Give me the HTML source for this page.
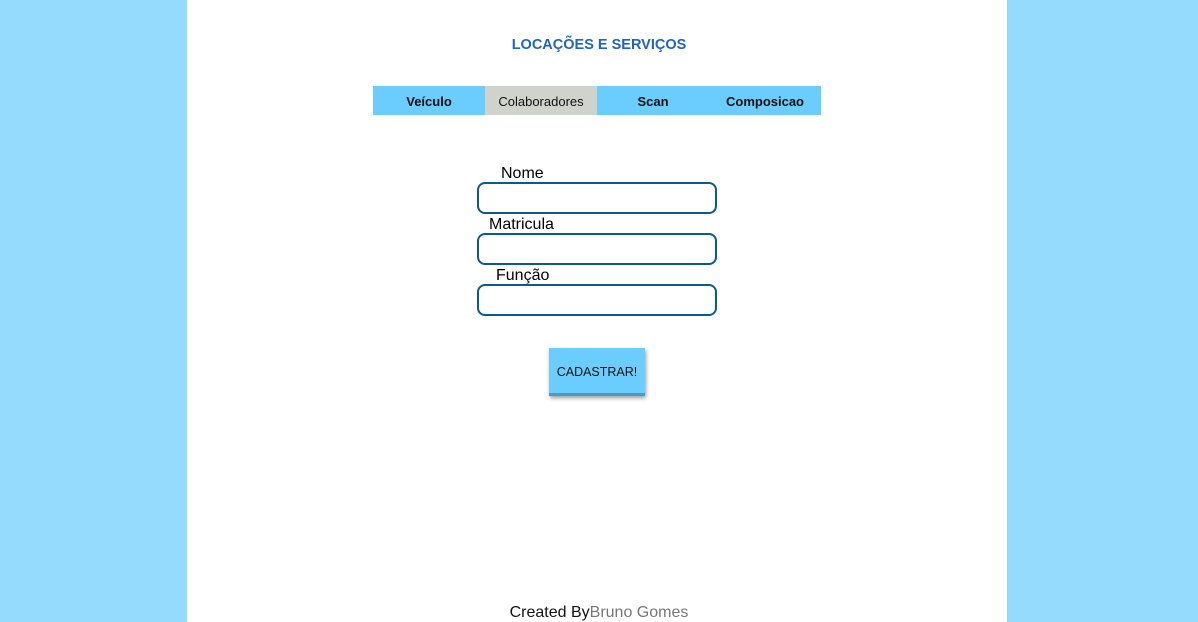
<!DOCTYPE html>
<html><head><meta charset="utf-8"><style>
body{margin:0;width:1198px;height:622px;background:#94dbfe;font-family:"Liberation Sans",Arial,sans-serif;overflow:hidden;position:relative}
.page{position:absolute;left:187px;top:0;width:820px;height:622px;background:#fff}
h1{position:absolute;margin:0;left:0;width:1198px;top:37px;text-align:center;font-size:14.5px;color:#1e64c0;font-weight:bold}
.nav{position:absolute;left:373px;top:86px;width:448px;height:29px;background:#6bcdfd}
.nav div{position:absolute;top:0;height:29px;line-height:32px;text-align:center;font-size:13px;font-weight:bold;color:#111;width:112px}
.lbl{position:absolute;font-size:16px;color:#000}
.inp{position:absolute;left:477px;width:236px;height:28px;border:2px solid #0b5a8c;border-radius:8px;background:#fff}
.btn{position:absolute;left:549px;top:348px;width:96px;height:45px;background:#6bcdfd;border-bottom:3px solid #4a9bc8;box-shadow:1px 2px 4px rgba(0,0,0,.4);font-size:12.5px;text-align:center;line-height:48px;color:#111}
.foot{position:absolute;left:0;width:1198px;top:604px;text-align:center;font-size:16px;color:#111}
</style></head><body>
<div class="page"></div>
<h1>LOCAÇÕES E SERVIÇOS</h1>
<div class="nav">
<div style="left:0">Veículo</div>
<div style="left:112px;background:#cfd3cc;font-weight:normal">Colaboradores</div>
<div style="left:224px">Scan</div>
<div style="left:336px">Composicao</div>
</div>
<div class="lbl" style="left:501px;top:165px">Nome</div>
<div class="inp" style="top:182px"></div>
<div class="lbl" style="left:489px;top:216px">Matricula</div>
<div class="inp" style="top:233px"></div>
<div class="lbl" style="left:496px;top:267px">Função</div>
<div class="inp" style="top:284px"></div>
<div class="btn">CADASTRAR!</div>
<div class="foot">Created By<span style="color:#777">Bruno Gomes</span></div>
</body></html>
